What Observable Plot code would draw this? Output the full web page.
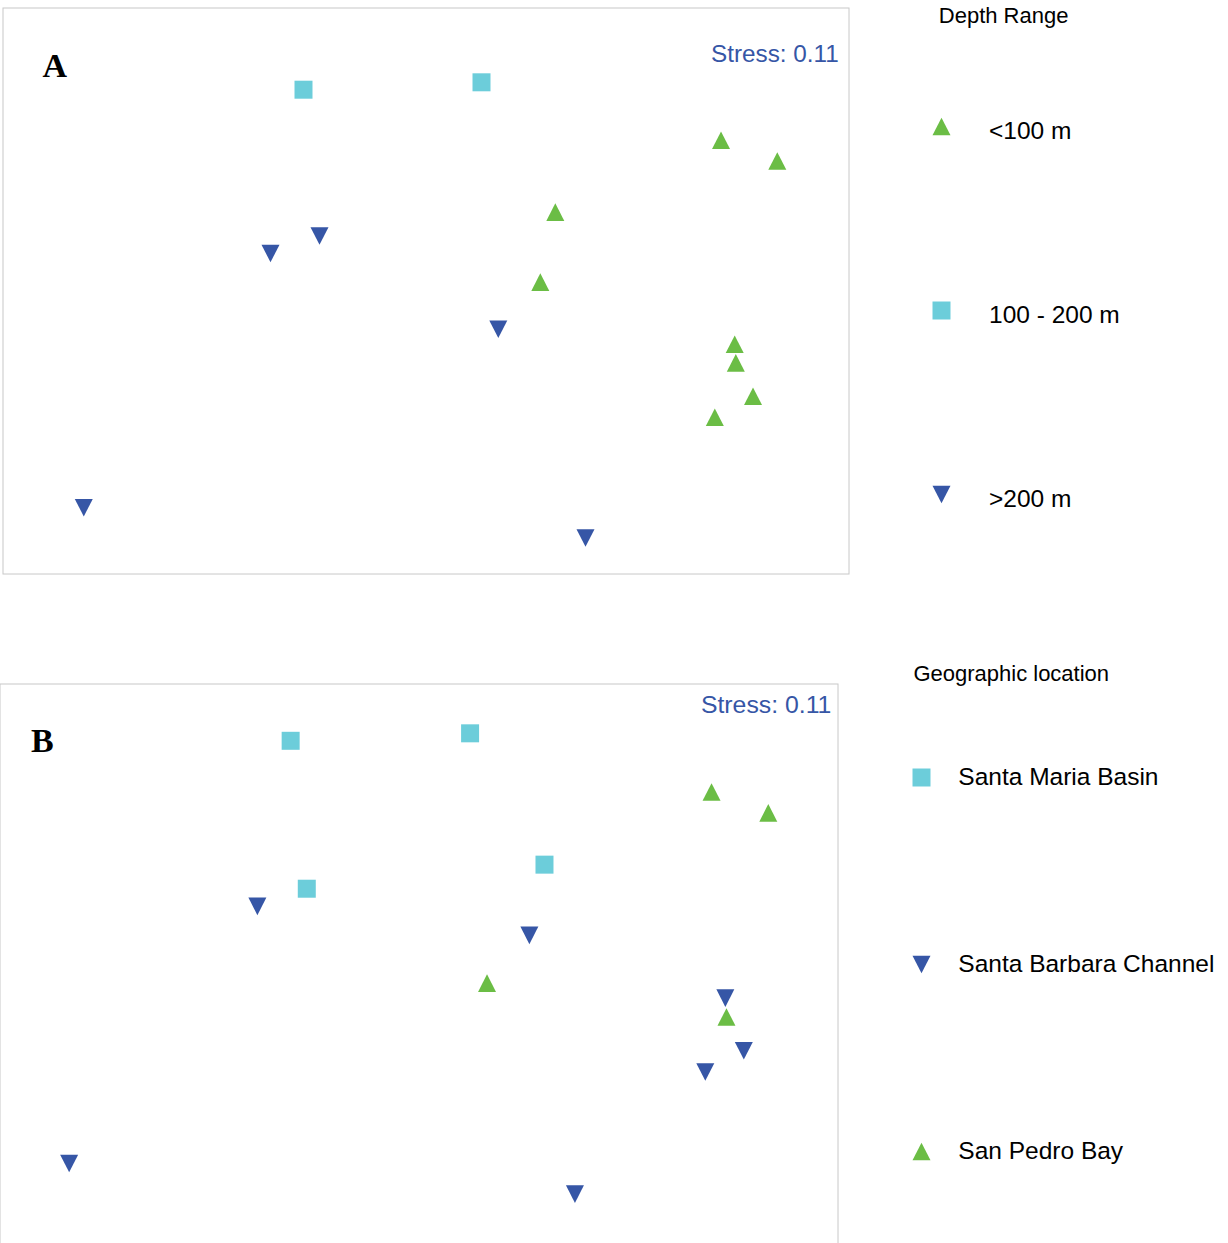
<!DOCTYPE html>
<html>
<head>
<meta charset="utf-8">
<script src="https://cdn.jsdelivr.net/npm/d3@7"></script>
<script src="https://cdn.jsdelivr.net/npm/@observablehq/plot@0.6"></script>
<style>
html, body { margin: 0; padding: 0; background: #fff; }
#root { position: relative; width: 1228px; height: 1243px; overflow: hidden; background: #fff; }
#root > svg { position: absolute; }
</style>
</head>
<body>
<div id="root"></div>
<script>
// ---- data (NMDS configuration) ----
const samples = ["S1","S2","S3","S4","S5","S6","S7","S8","S9","S10","S11","S12","S13","S14","S15"];
const nmds1 = [-0.3175, 0.1275, 0.7263, 0.867, 0.312, -0.2775, -0.4, 0.2745, 0.1695, 0.7605, 0.7633, 0.8063, 0.7108, -0.8668, 0.3875];
const nmds2 = [0.552, 0.5705, 0.4255, 0.3738, 0.2458, 0.1863, 0.1425, 0.0708, -0.047, -0.0843, -0.1308, -0.2143, -0.2668, -0.493, -0.5688];
const depthRange = ["100 - 200 m","100 - 200 m","<100 m","<100 m","<100 m",">200 m",">200 m","<100 m",">200 m","<100 m","<100 m","<100 m","<100 m",">200 m",">200 m"];
const geoLocation = ["Santa Maria Basin","Santa Maria Basin","San Pedro Bay","San Pedro Bay","Santa Maria Basin","Santa Maria Basin","Santa Barbara Channel","Santa Barbara Channel","San Pedro Bay","Santa Barbara Channel","San Pedro Bay","Santa Barbara Channel","Santa Barbara Channel","Santa Barbara Channel","Santa Barbara Channel"];
const depthLevels = ["<100 m", "100 - 200 m", ">200 m"];
const locationLevels = ["Santa Maria Basin", "Santa Barbara Channel", "San Pedro Bay"];
const stressValue = "0.11";

// ---- styles ----
const GREEN = "#6bbd45", CYAN = "#6ccdda", BLUE = "#3656a6";
const triUp = { draw(ctx, size) { const r = Math.sqrt(size / Math.PI), h = r * 0.98; ctx.moveTo(0, -h); ctx.lineTo(r, h); ctx.lineTo(-r, h); ctx.closePath(); } };
const triDown = { draw(ctx, size) { const r = Math.sqrt(size / Math.PI), h = r * 0.98; ctx.moveTo(0, h); ctx.lineTo(r, -h); ctx.lineTo(-r, -h); ctx.closePath(); } };
const square = { draw(ctx, size) { const r = Math.sqrt(size / Math.PI); ctx.rect(-r, -r, 2 * r, 2 * r); } };

const depthColors = [GREEN, CYAN, BLUE], depthSymbols = [triUp, square, triDown];
const locColors = [CYAN, BLUE, GREEN], locSymbols = [square, triDown, triUp];

const svgStyle = { background: "transparent", overflow: "visible", fontFamily: "'Liberation Sans', Arial, sans-serif" };

function panel(o) {
  const data = samples.map((s, i) => ({ sample: s, x: nmds1[i], y: nmds2[i], group: o.cats[i] }));
  return Plot.plot({
    width: o.width, height: o.height,
    marginLeft: o.ml, marginRight: o.mr, marginTop: o.mt, marginBottom: o.mb,
    style: svgStyle,
    x: { domain: o.xDomain, axis: null },
    y: { domain: o.yDomain, axis: null },
    color: { domain: o.levels, range: o.colors },
    symbol: { domain: o.levels, range: o.symbols },
    marks: [
      Plot.frame({ stroke: "#c8c8c8", strokeWidth: 1 }),
      Plot.dot(data, { x: "x", y: "y", fill: "group", symbol: "group", r: 9 }),
      Plot.text([o.label], { frameAnchor: "top-left", dx: o.labelDx, dy: o.labelDy, textAnchor: "start", lineAnchor: "bottom",
        fontFamily: "'Liberation Serif', 'Times New Roman', serif", fontWeight: "bold", fontSize: 34, fill: "#000" }),
      Plot.text(["Stress: " + stressValue], { frameAnchor: "top-right", dx: o.stressDx, dy: o.stressDy, textAnchor: "end", lineAnchor: "bottom",
        fontSize: o.stressSize, fill: BLUE })
    ]
  });
}

function legend(o) {
  return Plot.plot({
    width: o.width, height: o.height, margin: 0,
    style: svgStyle,
    y: { type: "point", domain: o.levels, range: o.yRange, padding: 0, axis: null },
    color: { domain: o.levels, range: o.colors },
    symbol: { domain: o.levels, range: o.symbols },
    marks: [
      Plot.text([o.title], { frameAnchor: "top-left", dx: o.titleDx, dy: o.titleDy, textAnchor: "start", lineAnchor: "bottom", fontSize: 22, fill: "#000" }),
      Plot.dot(o.levels, { y: d => d, fill: d => d, symbol: d => d, r: 9, frameAnchor: "left", dx: o.symDx }),
      Plot.text(o.levels, { y: d => d, frameAnchor: "left", dx: o.textDx, dy: o.textDy, textAnchor: "start", lineAnchor: "bottom", fontSize: 24.5, fill: "#000" })
    ]
  });
}

const root = document.getElementById("root");
function place(svg, left, top) { svg.style.left = left + "px"; svg.style.top = top + "px"; root.appendChild(svg); }

place(panel({
  cats: depthRange, levels: depthLevels, colors: depthColors, symbols: depthSymbols,
  width: 860, height: 590, ml: 2.5, mr: 11.5, mt: 7.5, mb: 16.5,
  xDomain: [-1.06875, 1.04625], yDomain: [-0.65875, 0.75625],
  label: "A", labelDx: 39.5, labelDy: 69.2, stressDx: -10.2, stressDy: 54.2, stressSize: 24.3
}), 0, 0);

place(legend({
  title: "Depth Range", levels: depthLevels, colors: depthColors, symbols: depthSymbols,
  width: 328, height: 540, yRange: [125.5, 494.5],
  titleDx: 38.3, titleDy: 22.7, symDx: 41, textDx: 88.5, textDy: 12
}), 900, 0);

place(panel({
  cats: geoLocation, levels: locationLevels, colors: locColors, symbols: locSymbols,
  width: 860, height: 620, ml: 9.5, mr: 12.5, mt: 43.5, mb: 10.5,
  xDomain: [-1.03829, 1.03988], yDomain: [-0.70691, 0.69242],
  label: "B", labelDx: 31, labelDy: 68.2, stressDx: -6.6, stressDy: 28.8, stressSize: 24.8
}), -10, 640);

place(legend({
  title: "Geographic location", levels: locationLevels, colors: locColors, symbols: locSymbols,
  width: 338, height: 593, yRange: [126.5, 500.8],
  titleDx: 22.9, titleDy: 30.7, symDx: 31, textDx: 67.8, textDy: 7.5
}), 890, 650);
</script>
</body>
</html>
